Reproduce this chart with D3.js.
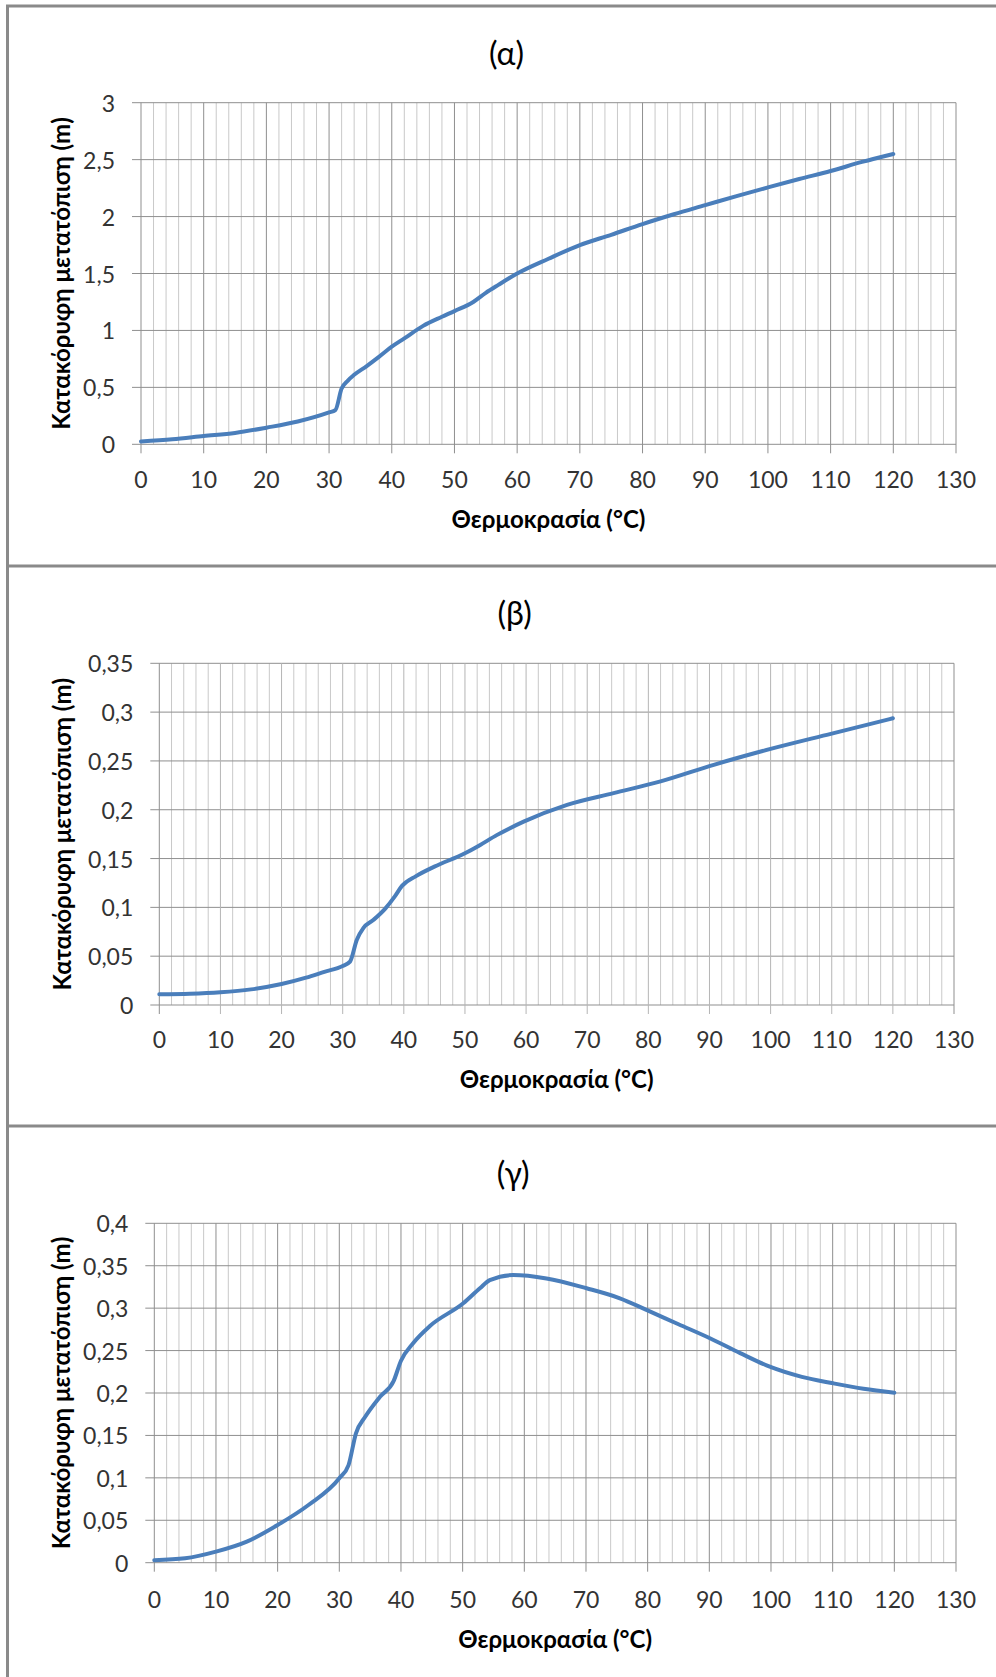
<!DOCTYPE html>
<html>
<head>
<meta charset="utf-8">
<script src="https://cdn.jsdelivr.net/npm/d3@7"></script>
<style>
  body { margin: 0; background: #fff; }
  text { font-family: Lato, "Open Sans", sans-serif; }
</style>
</head>
<body>
<svg id="chart"></svg>
<script>
// Datos (temperatura en °C, desplazamiento en m)
const tempA = [0, 5, 10, 15, 20, 25, 30, 31, 32, 33, 34, 36, 38, 40, 42, 45, 48, 50, 53, 55, 57, 60, 65, 70, 75, 80, 85, 90, 95, 100, 105, 110, 115, 120];
const dispA = [0.025, 0.045, 0.073, 0.1, 0.146, 0.2, 0.28, 0.3, 0.49, 0.56, 0.61, 0.687, 0.77, 0.857, 0.93, 1.04, 1.12, 1.17, 1.25, 1.33, 1.4, 1.5, 1.63, 1.75, 1.84, 1.934, 2.02, 2.1, 2.18, 2.256, 2.33, 2.4, 2.48, 2.55];

const tempB = [0, 5, 10, 15, 20, 24, 27, 30, 31.2, 32.3, 33.4, 35, 37, 38.5, 39.7, 42, 45, 50, 52.5, 55.2, 59.6, 66.7, 74.3, 82, 90.7, 100, 110, 120];
const dispB = [0.011, 0.0115, 0.013, 0.016, 0.0215, 0.028, 0.034, 0.040, 0.0444, 0.0666, 0.079, 0.087, 0.099, 0.111, 0.122, 0.132, 0.1417, 0.1554, 0.164, 0.174, 0.1878, 0.205, 0.217, 0.229, 0.246, 0.2623, 0.278, 0.2937];

const tempC = [0, 5, 10, 15, 20, 25, 30, 31.5, 32.7, 34.2, 36.6, 38.8, 40, 42, 44.7, 50.1, 52.8, 54.4, 58.2, 63.6, 70.1, 75.5, 79.8, 85, 90.1, 95, 99.8, 105, 110.1, 115, 120];
const dispC = [0.003, 0.0052, 0.013, 0.0248, 0.0444, 0.068, 0.0995, 0.115, 0.1525, 0.172, 0.1956, 0.214, 0.238, 0.259, 0.279, 0.3057, 0.3234, 0.333, 0.339, 0.335, 0.3234, 0.3116, 0.298, 0.281, 0.2645, 0.247, 0.231, 0.219, 0.2114, 0.205, 0.2003];

const xTicks = d3.range(0, 131, 10);
const xMinor = d3.range(0, 131, 2);

const titulos = ['(α)', '(β)', '(γ)'];
const tituloY = 'Κατακόρυφη μετατόπιση (m)';
const titulosX = ['Θερμοκρασία (°C)', 'Θερμοκρασία  (°C)', 'Θερμοκρασία (°C)'];

const yMaximos = [3, 0.35, 0.4];
const yPasos = [0.5, 0.05, 0.05];

const [w, h] = [996, 1677];

const svg = d3.select('#chart')
    .attr('width', w)
    .attr('height', h);

// Marco de los paneles
const colorMarco = '#8a8a8a';
svg.append('line').attr('x1', 7.5).attr('x2', 7.5).attr('y1', 5).attr('y2', h).attr('stroke', colorMarco).attr('stroke-width', 3);
[6, 566, 1126].forEach(y => {
    svg.append('line').attr('x1', 6).attr('x2', w).attr('y1', y).attr('y2', y).attr('stroke', colorMarco).attr('stroke-width', 3);
});

// Posición de cada panel
const paneles = [
    { t: tempA, v: dispA, x0: 141, x1: 956, top: 102.7, bottom: 444.3, titleY: 52, tickY: 479, axisTitleY: 518, yTitleX: 60, mayor: '#8f8f8f', menor: '#c9c9c9' },
    { t: tempB, v: dispB, x0: 159.3, x1: 954, top: 663.3, bottom: 1005, titleY: 612, tickY: 1039, axisTitleY: 1078, yTitleX: 61, mayor: '#b5b5b5', menor: '#c9c9c9' },
    { t: tempC, v: dispC, x0: 154.3, x1: 956, top: 1223.3, bottom: 1562.7, titleY: 1172, tickY: 1599, axisTitleY: 1638, yTitleX: 60, mayor: '#8f8f8f', menor: '#c9c9c9' }
];

const formatoComa = d => String(+d.toFixed(2)).replace('.', ',');

paneles.forEach((p, i) => {
    const g = svg.append('g');

    const xScale = d3.scaleLinear().domain([0, 130]).range([p.x0, p.x1]);
    const yScale = d3.scaleLinear().domain([0, yMaximos[i]]).range([p.bottom, p.top]);
    const yTicks = d3.range(0, yMaximos[i] + yPasos[i] / 2, yPasos[i]);

    // Rejilla vertical menor
    g.selectAll('.menor')
        .data(xMinor.filter(d => d % 10 !== 0))
        .enter()
        .append('line')
        .attr('x1', d => xScale(d)).attr('x2', d => xScale(d))
        .attr('y1', p.top).attr('y2', p.bottom)
        .attr('stroke', p.menor)
        .attr('stroke-width', 1);

    // Rejilla horizontal + marcas del eje Y
    g.selectAll('.hor')
        .data(yTicks)
        .enter()
        .append('line')
        .attr('x1', p.x0 - 9).attr('x2', p.x1)
        .attr('y1', d => yScale(d)).attr('y2', d => yScale(d))
        .attr('stroke', '#8f8f8f')
        .attr('stroke-width', 1);

    // Rejilla vertical mayor + marcas del eje X
    g.selectAll('.mayor')
        .data(xTicks)
        .enter()
        .append('line')
        .attr('x1', d => xScale(d)).attr('x2', d => xScale(d))
        .attr('y1', p.top).attr('y2', p.bottom + 9)
        .attr('stroke', d => (d === 0 || d === 130) ? '#8f8f8f' : p.mayor)
        .attr('stroke-width', 1);

    // Etiquetas eje X
    g.selectAll('.xlab')
        .data(xTicks)
        .enter()
        .append('text')
        .attr('x', d => xScale(d))
        .attr('y', p.tickY)
        .attr('text-anchor', 'middle')
        .attr('dominant-baseline', 'central')
        .attr('font-size', 23)
        .attr('fill', '#333')
        .text(d => d);

    // Etiquetas eje Y
    g.selectAll('.ylab')
        .data(yTicks)
        .enter()
        .append('text')
        .attr('x', p.x0 - 26)
        .attr('y', d => yScale(d))
        .attr('text-anchor', 'end')
        .attr('dominant-baseline', 'central')
        .attr('font-size', 23)
        .attr('fill', '#333')
        .text(formatoComa);

    // Curva
    const linea = d3.line()
        .x((d, k) => xScale(p.t[k]))
        .y(d => yScale(d))
        .curve(d3.curveMonotoneX);

    g.append('path')
        .attr('d', linea(p.v))
        .attr('fill', 'none')
        .attr('stroke', '#4a7ebb')
        .attr('stroke-width', 4)
        .attr('stroke-linecap', 'round');

    // Títulos
    g.append('text')
        .attr('x', (p.x0 + p.x1) / 2 - 42)
        .attr('y', p.titleY)
        .attr('text-anchor', 'middle')
        .attr('dominant-baseline', 'central')
        .attr('font-size', 32)
        .attr('fill', '#000')
        .text(titulos[i]);

    g.append('text')
        .attr('x', (p.x0 + p.x1) / 2)
        .attr('y', p.axisTitleY)
        .attr('text-anchor', 'middle')
        .attr('dominant-baseline', 'central')
        .attr('font-size', 24)
        .attr('font-weight', 'bold')
        .attr('fill', '#000')
        .text(titulosX[i]);

    g.append('text')
        .attr('transform', 'translate(' + p.yTitleX + ',' + ((p.top + p.bottom) / 2) + ') rotate(-90)')
        .attr('text-anchor', 'middle')
        .attr('dominant-baseline', 'central')
        .attr('font-size', 24)
        .attr('font-weight', 'bold')
        .attr('fill', '#000')
        .text(tituloY);
});
</script>
</body>
</html>
